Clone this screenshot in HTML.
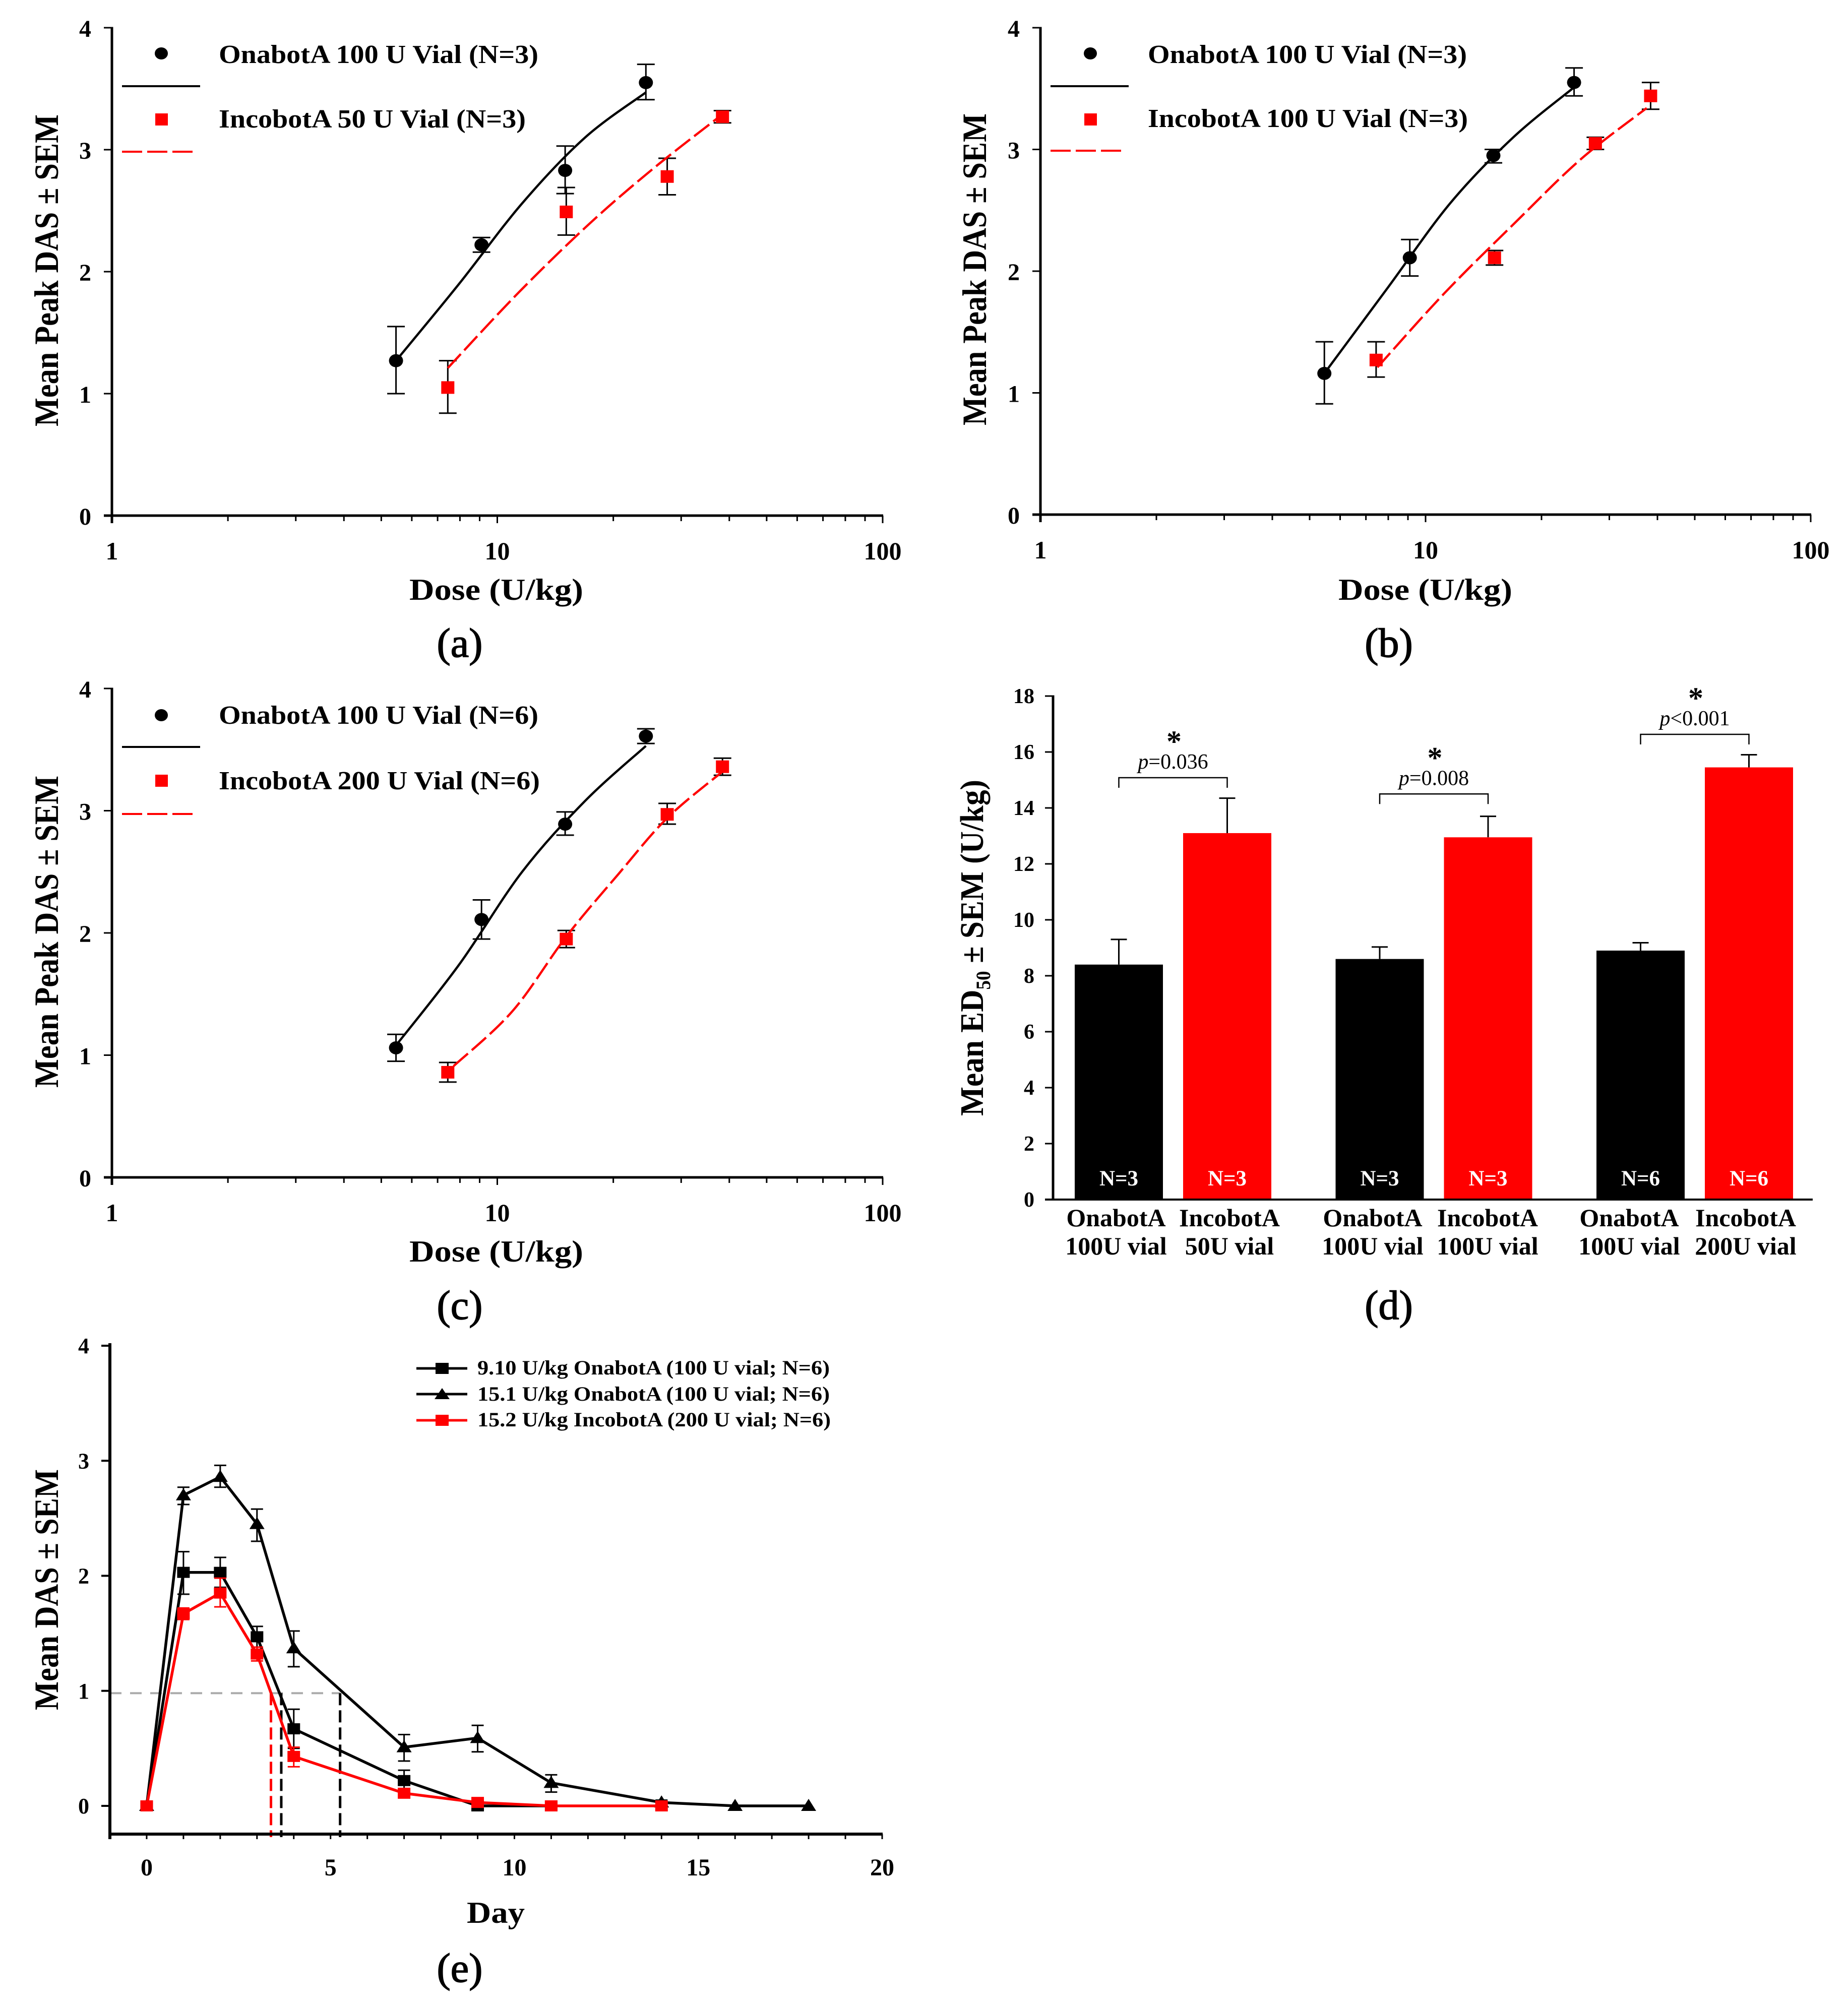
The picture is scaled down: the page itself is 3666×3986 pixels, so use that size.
<!DOCTYPE html>
<html lang="en">
<head>
<meta charset="utf-8">
<title>Dose response and time course of OnabotA and IncobotA</title>
<style>
html,body{margin:0;padding:0;background:#fff;}
svg{display:block;position:absolute;left:0;top:0;}
text{font-family:"Liberation Serif","DejaVu Serif",serif;fill:#000;}
.b{font-weight:bold;}
.leg{font-size:52px;font-weight:bold;}
.xt{font-size:60px;font-weight:bold;}
.yt{font-size:68px;font-weight:bold;}
.cap{font-size:82px;text-anchor:middle;stroke:#000;stroke-width:1.5px;}
.lege{font-size:40px;font-weight:bold;}
</style>
</head>
<body>
<svg id="fig" xmlns="http://www.w3.org/2000/svg" width="3666" height="3986" viewBox="0 0 3666 3986">
<rect x="0" y="0" width="3666" height="3986" fill="#fff"/>

<g id="panel-a">
  <ellipse cx="320" cy="106" rx="13" ry="12" fill="#000"/>
  <line x1="242" x2="397" y1="171" y2="171" stroke="#000" stroke-width="4"/>
  <text class="leg" x="434" y="125" textLength="634" lengthAdjust="spacingAndGlyphs">OnabotA 100 U Vial (N=3)</text>
  <rect x="308" y="225" width="25" height="24" fill="#f00"/>
  <line x1="242" x2="382" y1="301" y2="301" stroke="#f00" stroke-width="4" stroke-dasharray="40 10"/>
  <text class="leg" x="434" y="253" textLength="609" lengthAdjust="spacingAndGlyphs">IncobotA 50 U Vial (N=3)</text>
  <text class="xt" x="812" y="1190" textLength="345" lengthAdjust="spacingAndGlyphs">Dose (U/kg)</text>
  <text class="yt" transform="translate(115,846) rotate(-90)" textLength="619" lengthAdjust="spacingAndGlyphs">Mean Peak DAS ± SEM</text>
  <text class="cap" x="912" y="1303">(a)</text>
</g>

<g id="panel-b">
  <ellipse cx="2163" cy="106" rx="13" ry="12" fill="#000"/>
  <line x1="2084" x2="2239" y1="171" y2="171" stroke="#000" stroke-width="4"/>
  <text class="leg" x="2277" y="125" textLength="633" lengthAdjust="spacingAndGlyphs">OnabotA 100 U Vial (N=3)</text>
  <rect x="2151" y="225" width="25" height="24" fill="#f00"/>
  <line x1="2084" x2="2224" y1="299" y2="299" stroke="#f00" stroke-width="4" stroke-dasharray="40 10"/>
  <text class="leg" x="2277" y="252" textLength="635" lengthAdjust="spacingAndGlyphs">IncobotA 100 U Vial (N=3)</text>
  <text class="xt" x="2655" y="1190" textLength="345" lengthAdjust="spacingAndGlyphs">Dose (U/kg)</text>
  <text class="yt" transform="translate(1956,844) rotate(-90)" textLength="619" lengthAdjust="spacingAndGlyphs">Mean Peak DAS ± SEM</text>
  <text class="cap" x="2755" y="1303">(b)</text>
</g>

<g id="panel-c">
  <ellipse cx="320" cy="1419" rx="13" ry="12" fill="#000"/>
  <line x1="242" x2="397" y1="1482" y2="1482" stroke="#000" stroke-width="4"/>
  <text class="leg" x="434" y="1436" textLength="634" lengthAdjust="spacingAndGlyphs">OnabotA 100 U Vial (N=6)</text>
  <rect x="308" y="1537" width="25" height="24" fill="#f00"/>
  <line x1="242" x2="382" y1="1615" y2="1615" stroke="#f00" stroke-width="4" stroke-dasharray="40 10"/>
  <text class="leg" x="434" y="1566" textLength="637" lengthAdjust="spacingAndGlyphs">IncobotA 200 U Vial (N=6)</text>
  <text class="xt" x="812" y="2503" textLength="345" lengthAdjust="spacingAndGlyphs">Dose (U/kg)</text>
  <text class="yt" transform="translate(115,2158) rotate(-90)" textLength="619" lengthAdjust="spacingAndGlyphs">Mean Peak DAS ± SEM</text>
  <text class="cap" x="912" y="2617">(c)</text>
</g>

<g id="panel-d">
  <text class="yt" style="font-size:66px" transform="translate(1950,2214) rotate(-90)" textLength="667" lengthAdjust="spacingAndGlyphs">Mean ED<tspan style="font-size:40px" dy="14">50</tspan><tspan dy="-14"> ± SEM (U/kg)</tspan></text>
  <text class="cap" x="2755" y="2617">(d)</text>
</g>

<g id="panel-e">
  <text class="lege" x="947" y="2727" textLength="699" lengthAdjust="spacingAndGlyphs">9.10 U/kg OnabotA (100 U vial; N=6)</text>
  <text class="lege" x="947" y="2779" textLength="699" lengthAdjust="spacingAndGlyphs">15.1 U/kg OnabotA (100 U vial; N=6)</text>
  <text class="lege" x="947" y="2830" textLength="701" lengthAdjust="spacingAndGlyphs">15.2 U/kg IncobotA (200 U vial; N=6)</text>
  <line x1="826" x2="927" y1="2715" y2="2715" stroke="#000" stroke-width="5"/>
  <rect x="864" y="2704" width="26" height="22" fill="#000"/>
  <line x1="826" x2="927" y1="2766" y2="2766" stroke="#000" stroke-width="5"/>
  <polygon points="877,2754 892,2776 862,2776" fill="#000"/>
  <line x1="826" x2="927" y1="2818" y2="2818" stroke="#f00" stroke-width="5"/>
  <rect x="864" y="2807" width="26" height="22" fill="#f00"/>
  <text class="xt" x="926" y="3815" textLength="115" lengthAdjust="spacingAndGlyphs">Day</text>
  <text class="yt" transform="translate(115,3393) rotate(-90)" textLength="478" lengthAdjust="spacingAndGlyphs">Mean DAS ± SEM</text>
  <text class="cap" x="912" y="3932">(e)</text>
</g>
</svg>

<script>
// ---------- dose-response data (panels a, b, c) ----------
const onaDoses = [5.46, 9.1, 15, 24.3];
const incoDoses = [7.44, 15.1, 27.6, 38.4];
const doseTickValues = [1, 10, 100];
const doseTickLabels = ['1', '10', '100'];
const minorMultipliers = [2, 3, 4, 5, 6, 7, 8, 9];
const dasTicks = [0, 1, 2, 3, 4];

const aOnaMean = [1.27, 2.22, 2.83, 3.55];
const aOnaHi = [1.55, 2.28, 3.03, 3.70];
const aOnaLo = [1.00, 2.16, 2.64, 3.41];
const aIncoMean = [1.05, 2.49, 2.78, 3.27];
const aIncoHi = [1.27, 2.69, 2.93, 3.32];
const aIncoLo = [0.84, 2.30, 2.63, 3.22];
const aOnaCurveDose = [5.46, 7.96, 11.6, 16.9, 24.3];
const aOnaCurveDas = [1.27, 1.90, 2.56, 3.10, 3.47];
const aIncoCurveDose = [7.44, 11.37, 17.3, 25.5, 38.4];
const aIncoCurveDas = [1.21, 1.83, 2.39, 2.85, 3.29];

const bOnaMean = [1.16, 2.11, 2.95, 3.55];
const bOnaHi = [1.42, 2.26, 3.00, 3.67];
const bOnaLo = [0.91, 1.96, 2.89, 3.44];
const bIncoMean = [1.27, 2.11, 3.05, 3.44];
const bIncoHi = [1.42, 2.17, 3.10, 3.55];
const bIncoLo = [1.13, 2.05, 3.00, 3.33];
const bOnaCurveDose = [5.46, 7.96, 11.6, 16.9, 24.3];
const bOnaCurveDas = [1.16, 1.86, 2.56, 3.10, 3.51];
const bIncoCurveDose = [7.5, 11.2, 17.1, 25.3, 37.5];
const bIncoCurveDas = [1.21, 1.82, 2.40, 2.92, 3.34];

const cOnaMean = [1.06, 2.11, 2.89, 3.61];
const cOnaHi = [1.17, 2.27, 2.99, 3.67];
const cOnaLo = [0.95, 1.95, 2.80, 3.55];
const cIncoMean = [0.86, 1.95, 2.97, 3.36];
const cIncoHi = [0.94, 2.02, 3.06, 3.43];
const cIncoLo = [0.78, 1.88, 2.89, 3.29];
const cOnaCurveDose = [5.46, 7.96, 11.6, 16.9, 24.3];
const cOnaCurveDas = [1.08, 1.74, 2.50, 3.08, 3.53];
const cIncoCurveDose = [7.7, 10.95, 15.1, 20.6, 27.6, 38.4];
const cIncoCurveDas = [0.91, 1.36, 1.97, 2.48, 2.94, 3.32];

// ---------- bar chart data (panel d) ----------
const ed50Values = [8.4, 13.1, 8.6, 12.95, 8.9, 15.45];
const ed50ErrTops = [9.3, 14.35, 9.03, 13.7, 9.18, 15.9];
const barNLabels = ['N=3', 'N=3', 'N=3', 'N=3', 'N=6', 'N=6'];
const barLine1 = ['OnabotA', 'IncobotA', 'OnabotA', 'IncobotA', 'OnabotA', 'IncobotA'];
const barLine2 = ['100U vial', '50U vial', '100U vial', '100U vial', '100U vial', '200U vial'];
const ed50Ticks = [0, 2, 4, 6, 8, 10, 12, 14, 16, 18];
const bracketLevels = [15.08, 14.5, 16.63];
const pRelations = ['=0.036', '=0.008', '<0.001'];

// ---------- time-course data (panel e) ----------
const ona910Days = [0, 1, 2, 3, 4, 7, 9, 11];
const ona910Mean = [0, 2.03, 2.03, 1.47, 0.67, 0.22, 0, 0];
const ona910Hi = [0, 2.21, 2.16, 1.56, 0.84, 0.31, 0, 0];
const ona910Lo = [0, 1.84, 1.90, 1.38, 0.50, 0.13, 0, 0];
const ona151Days = [0, 1, 2, 3, 4, 7, 9, 11, 14, 16, 18];
const ona151Mean = [0, 2.70, 2.86, 2.45, 1.37, 0.51, 0.59, 0.20, 0.03, 0, 0];
const ona151Hi = [0, 2.77, 2.96, 2.58, 1.52, 0.62, 0.70, 0.27, 0.05, 0, 0];
const ona151Lo = [0, 2.62, 2.77, 2.30, 1.21, 0.39, 0.47, 0.12, 0.01, 0, 0];
const inco152Days = [0, 1, 2, 3, 4, 7, 9, 11, 14];
const inco152Mean = [0, 1.67, 1.85, 1.32, 0.43, 0.11, 0.03, 0, 0];
const inco152Hi = [0, 1.72, 1.98, 1.38, 0.51, 0.14, 0.05, 0, 0];
const inco152Lo = [0, 1.62, 1.73, 1.26, 0.34, 0.08, 0.01, 0, 0];
const dayMajorTicks = [0, 5, 10, 15, 20];
const dayTickLabels = ['0', '5', '10', '15', '20'];
const thresholdDas = [0.98];
const thresholdCrossDaysBlack = [3.66, 5.26];
const thresholdCrossDaysRed = [3.38];

// ---------- helpers ----------
const NS = 'http://www.w3.org/2000/svg';
function mk(parent, tag, attrs) {
  const el = document.createElementNS(NS, tag);
  for (const k in attrs) el.setAttribute(k, attrs[k]);
  parent.appendChild(el);
  return el;
}
function drawLine(parent, name, x1, y1, x2, y2, color, width, dash) {
  const el = mk(parent, 'line', { x1: x1, y1: y1, x2: x2, y2: y2, stroke: color, 'stroke-width': width });
  if (dash) el.setAttribute('stroke-dasharray', dash);
  
  
  return el;
}
function drawText(parent, name, str, x, y, size, anchor, weight, color) {
  const el = mk(parent, 'text', { x: x, y: y, 'text-anchor': anchor, 'font-weight': weight });
  el.style.fontSize = size + 'px';
  el.style.fill = color || '#000';
  el.textContent = str;
  
  
  return el;
}
function drawErr(parent, name, x, yHi, yLo, cap, color) {
  const g = mk(parent, 'g', {});
  
  
  mk(g, 'line', { x1: x, x2: x, y1: yHi, y2: yLo, stroke: color, 'stroke-width': 3 });
  mk(g, 'line', { x1: x - cap / 2, x2: x + cap / 2, y1: yHi, y2: yHi, stroke: color, 'stroke-width': 3 });
  mk(g, 'line', { x1: x - cap / 2, x2: x + cap / 2, y1: yLo, y2: yLo, stroke: color, 'stroke-width': 3 });
}
function smoothPath(pts) {
  let d = 'M' + pts[0][0].toFixed(1) + ' ' + pts[0][1].toFixed(1);
  for (let i = 0; i < pts.length - 1; i++) {
    const p0 = pts[Math.max(i - 1, 0)], p1 = pts[i], p2 = pts[i + 1], p3 = pts[Math.min(i + 2, pts.length - 1)];
    const c1x = p1[0] + (p2[0] - p0[0]) / 6, c1y = p1[1] + (p2[1] - p0[1]) / 6;
    const c2x = p2[0] - (p3[0] - p1[0]) / 6, c2y = p2[1] - (p3[1] - p1[1]) / 6;
    d += 'C' + c1x.toFixed(1) + ' ' + c1y.toFixed(1) + ' ' + c2x.toFixed(1) + ' ' + c2y.toFixed(1) + ' ' + p2[0].toFixed(1) + ' ' + p2[1].toFixed(1);
  }
  return d;
}

// ---------- dose-response panels ----------
function drawDosePanel(id, left, right, y0, y4, ona, inco) {
  const root = document.getElementById(id);
  const x = d => left + (right - left) * Math.log10(d) / 2;
  const y = v => y0 + (y4 - y0) * v / 4;

  drawLine(root, 'y-axis-line', left, y4 - 1.5, left, y0 + 15, '#000', 5);
  drawLine(root, 'x-axis-line', left - 16, y0, right + 1, y0, '#000', 5);
  dasTicks.forEach(t => {
    drawLine(root, 'y-axis-tick', left - 16, y(t), left, y(t), '#000', 3);
    drawText(root, 'y-tick-label', String(t), left - 41, y(t) + 18, 48, 'end', 'bold');
  });
  doseTickValues.forEach((t, i) => {
    drawLine(root, 'x-axis-major-tick', x(t), y0, x(t), y0 + 15, '#000', 3);
    drawText(root, 'x-tick-label', doseTickLabels[i], x(t), y0 + 87, 50, 'middle', 'bold');
  });
  [1, 10].forEach(decade => {
    minorMultipliers.forEach(m => {
      drawLine(root, 'x-axis-minor-tick', x(decade * m), y0, x(decade * m), y0 + 11, '#000', 3);
    });
  });

  ona.doses.forEach((d, i) => drawErr(root, 'onabot-error-bar', x(d), y(ona.hi[i]), y(ona.lo[i]), 35, '#000'));
  inco.doses.forEach((d, i) => drawErr(root, 'incobot-error-bar', x(d), y(inco.hi[i]), y(inco.lo[i]), 35, '#000'));

  const onaCurve = mk(root, 'path', { d: smoothPath(ona.curveDose.map((d, i) => [x(d), y(ona.curveDas[i])])), fill: 'none', stroke: '#000', 'stroke-width': 4.5 });
  
  
  const incoCurve = mk(root, 'path', { d: smoothPath(inco.curveDose.map((d, i) => [x(d), y(inco.curveDas[i])])), fill: 'none', stroke: '#f00', 'stroke-width': 4.5, 'stroke-dasharray': '38 10' });
  
  

  ona.doses.forEach((d, i) => {
    const pt = mk(root, 'ellipse', { cx: x(d), cy: y(ona.mean[i]), rx: 14, ry: 13, fill: '#000' });
    
    
  });
  inco.doses.forEach((d, i) => {
    const pt = mk(root, 'rect', { x: x(d) - 13, y: y(inco.mean[i]) - 12.5, width: 26, height: 25, fill: '#f00' });
    
    
  });
}
drawDosePanel('panel-a', 222, 1751, 1023, 55,
  { doses: onaDoses, mean: aOnaMean, hi: aOnaHi, lo: aOnaLo, curveDose: aOnaCurveDose, curveDas: aOnaCurveDas },
  { doses: incoDoses, mean: aIncoMean, hi: aIncoHi, lo: aIncoLo, curveDose: aIncoCurveDose, curveDas: aIncoCurveDas });
drawDosePanel('panel-b', 2064, 3592, 1021, 55,
  { doses: onaDoses, mean: bOnaMean, hi: bOnaHi, lo: bOnaLo, curveDose: bOnaCurveDose, curveDas: bOnaCurveDas },
  { doses: incoDoses, mean: bIncoMean, hi: bIncoHi, lo: bIncoLo, curveDose: bIncoCurveDose, curveDas: bIncoCurveDas });
drawDosePanel('panel-c', 222, 1751, 2336, 1366,
  { doses: onaDoses, mean: cOnaMean, hi: cOnaHi, lo: cOnaLo, curveDose: cOnaCurveDose, curveDas: cOnaCurveDas },
  { doses: incoDoses, mean: cIncoMean, hi: cIncoHi, lo: cIncoLo, curveDose: cIncoCurveDose, curveDas: cIncoCurveDas });

// ---------- bar panel ----------
(function () {
  const root = document.getElementById('panel-d');
  const left = 2089, right = 3596, y0 = 2380, yTop = 1381, yMax = 18;
  const y = v => y0 + (yTop - y0) * v / yMax;
  const barWidth = 175, firstBar = 2132, barStep = 215, groupStep = 517.5;
  const barLeft = i => firstBar + Math.floor(i / 2) * groupStep + (i % 2) * barStep;
  const barCenter = i => barLeft(i) + barWidth / 2;
  const labelCenter = i => (i % 2 ? 2439 + Math.floor(i / 2) * 512 : 2214 + Math.floor(i / 2) * 509);

  ed50Values.forEach((v, i) => {
    drawLine(root, 'bar-error-bar', barCenter(i), y(ed50ErrTops[i]), barCenter(i), y(v), '#000', 3);
    drawLine(root, 'bar-error-cap', barCenter(i) - 16, y(ed50ErrTops[i]), barCenter(i) + 16, y(ed50ErrTops[i]), '#000', 3);
    const bar = mk(root, 'rect', { x: barLeft(i), y: y(v), width: barWidth, height: y0 - y(v), fill: i % 2 ? '#f00' : '#000' });
    
    
    drawText(root, 'bar-n-label', barNLabels[i], barCenter(i), 2352, 43, 'middle', 'bold', '#fff');
    drawText(root, 'bar-category-label', barLine1[i], labelCenter(i), 2433, 50, 'middle', 'bold');
    drawText(root, 'bar-category-label', barLine2[i], labelCenter(i), 2489, 50, 'middle', 'bold');
  });

  drawLine(root, 'y-axis-line', left, yTop - 1.5, left, y0, '#000', 5);
  drawLine(root, 'x-axis-line', left - 16, y0, right, y0, '#000', 4);
  ed50Ticks.forEach(t => {
    drawLine(root, 'y-axis-tick', left - 16, y(t), left, y(t), '#000', 3);
    drawText(root, 'y-tick-label', String(t), 2052, y(t) + 14, 42, 'end', 'bold');
  });

  bracketLevels.forEach((lvl, g) => {
    const xa = barCenter(g * 2), xb = barCenter(g * 2 + 1), yb = y(lvl);
    const br = mk(root, 'path', { d: 'M' + xa + ' ' + (yb + 20) + 'V' + yb + 'H' + xb + 'V' + (yb + 20), fill: 'none', stroke: '#000', 'stroke-width': 2.5 });
    
    
    const label = drawText(root, 'p-value-label', '', (xa + xb) / 2, yb - 18, 42, 'middle', 'normal');
    const ital = mk(label, 'tspan', { 'font-style': 'italic' });
    ital.textContent = 'p';
    const rest = mk(label, 'tspan', {});
    rest.textContent = pRelations[g];
    drawText(root, 'significance-star', '*', (xa + xb) / 2 + 2, yb - 80 + 28, 60, 'middle', 'bold');
  });
})();

// ---------- time-course panel ----------
(function () {
  const root = document.getElementById('panel-e');
  const left = 218, right = 1750, y0 = 3583, y4 = 2670, axisY = 3639;
  const x = d => left + (right - left) * (d + 1) / 21;
  const y = v => y0 + (y4 - y0) * v / 4;

  drawLine(root, 'threshold-line', left, y(thresholdDas[0]), x(thresholdCrossDaysBlack[1]), y(thresholdDas[0]), '#aaa', 4, '23 17');
  thresholdCrossDaysRed.forEach(d => drawLine(root, 'incobot-duration-line', x(d), y(thresholdDas[0]), x(d), axisY + 6, '#f00', 5, '24 10'));
  thresholdCrossDaysBlack.forEach(d => drawLine(root, 'onabot-duration-line', x(d), y(thresholdDas[0]), x(d), axisY + 6, '#000', 5, '24 10'));

  drawLine(root, 'y-axis-line', left, y4 - 5, left, axisY + 10, '#000', 6);
  drawLine(root, 'x-axis-line', left, axisY, right + 1, axisY, '#000', 6);
  [0, 1, 2, 3, 4].forEach(t => {
    drawLine(root, 'y-axis-tick', left - 17, y(t), left, y(t), '#000', 4);
    drawText(root, 'y-tick-label', String(t), 177, y(t) + 15, 44, 'end', 'bold');
  });
  for (let d = 0; d <= 20; d++) {
    drawLine(root, 'x-axis-tick', x(d), axisY, x(d), axisY + 10, '#000', 3);
  }
  dayMajorTicks.forEach((t, i) => {
    drawText(root, 'x-tick-label', dayTickLabels[i], x(t), 3721, 48, 'middle', 'bold');
  });

  function series(name, days, mean, hi, lo, color, marker) {
    days.forEach((d, i) => {
      if (hi[i] !== lo[i]) drawErr(root, name + '-error-bar', x(d), y(hi[i]), y(lo[i]), 24, color);
    });
    const line = mk(root, 'polyline', { points: days.map((d, i) => x(d).toFixed(1) + ',' + y(mean[i]).toFixed(1)).join(' '), fill: 'none', stroke: color, 'stroke-width': 5.5 });
    
    
    days.forEach((d, i) => {
      const px = x(d), py = y(mean[i]);
      const pt = marker === 'tri'
        ? mk(root, 'polygon', { points: px + ',' + (py - 14) + ' ' + (px + 15) + ',' + (py + 10) + ' ' + (px - 15) + ',' + (py + 10), fill: color })
        : mk(root, 'rect', { x: px - 12.5, y: py - 11, width: 25, height: 22, fill: color });
      
      
    });
  }
  series('onabot-15-1', ona151Days, ona151Mean, ona151Hi, ona151Lo, '#000', 'tri');
  series('onabot-9-10', ona910Days, ona910Mean, ona910Hi, ona910Lo, '#000', 'sq');
  series('incobot-15-2', inco152Days, inco152Mean, inco152Hi, inco152Lo, '#f00', 'sq');
})();
</script>
</body>
</html>
